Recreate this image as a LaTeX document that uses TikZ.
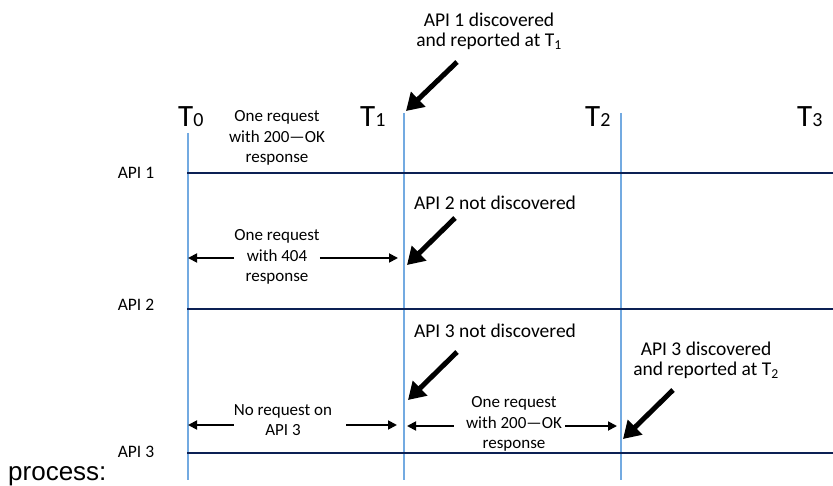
\documentclass[tikz,border=0pt]{standalone}
\usepackage{fontspec}
\setmainfont{Carlito}
\newfontfamily\procfont{Liberation Sans}
\usetikzlibrary{arrows.meta}
\definecolor{tickblue}{RGB}{115,170,225}
\definecolor{apinavy}{RGB}{12,32,84}

\begin{document}
\begin{tikzpicture}[x=1pt,y=-1pt,
  tickline/.style={draw=tickblue,line width=1.1pt},
  apiline/.style={draw=apinavy,line width=2.4pt},
  bigarrow/.style={line width=5pt,-{Triangle[length=17pt,width=20pt]}},
  smallarrow/.style={line width=1.8pt,-{Triangle[length=9pt,width=9pt]}},
  tlabel/.style={font=\fontsize{31}{31}\selectfont,anchor=base west,inner sep=0pt},
  apilabel/.style={font=\fontsize{17.5}{20}\selectfont,inner sep=0pt},
  rowtext/.style={font=\fontsize{17}{20.5}\selectfont,align=center,inner sep=0pt},
  note/.style={font=\fontsize{19.5}{20}\selectfont,align=center,inner sep=0pt}]

  \useasboundingbox (0,0) rectangle (833,486);

  % --- time marks ---
  \node[tlabel] (t0) at (178,127) {T{\fontsize{20}{20}\selectfont 0}};
  \node[tlabel] (t1) at (360,127) {T{\fontsize{20}{20}\selectfont 1}};
  \node[tlabel] (t2) at (585,127) {T{\fontsize{20}{20}\selectfont 2}};
  \node[tlabel] (t3) at (797,127) {T{\fontsize{20}{20}\selectfont 3}};

  \coordinate (t0top) at (188,133);
  \coordinate (t0bot) at (188,480);
  \coordinate (t1top) at (404,113);
  \coordinate (t1bot) at (404,480);
  \coordinate (t2top) at (621,113);
  \coordinate (t2bot) at (621,480);
  \draw[tickline] (t0top) -- (t0bot);
  \draw[tickline] (t1top) -- (t1bot);
  \draw[tickline] (t2top) -- (t2bot);

  % --- API lines ---
  \node[apilabel] (api1) at (136,173) {API 1};
  \node[apilabel] (api2) at (136,305) {API 2};
  \node[apilabel] (api3) at (136,452) {API 3};

  \coordinate (api1l) at (187,173);
  \coordinate (api1r) at (833,173);
  \coordinate (api2l) at (187,309);
  \coordinate (api2r) at (833,309);
  \coordinate (api3l) at (187,453);
  \coordinate (api3r) at (833,453);
  \draw[apiline] (api1l) -- (api1r);
  \draw[apiline] (api2l) -- (api2r);
  \draw[apiline] (api3l) -- (api3r);

  % --- API 1 ---
  \node[rowtext] (req1) at (277,138) {One request\\with 200\textemdash OK\\response};
  \node[note] (disc1) at (489,31) {API 1 discovered\\and reported at T\textsubscript{1}};
  \coordinate (tail1) at (457,62);
  \coordinate (tip1) at (406,111);
  \draw[bigarrow] (tail1) -- (tip1);

  % --- API 2 ---
  \node[rowtext] (req2) at (277,257) {One request\\with 404\\response};
  \coordinate (r2l) at (188,258);
  \coordinate (r2r) at (398,258);
  \draw[smallarrow] (req2.west |- r2l) -- (r2l);
  \draw[smallarrow] (req2.east |- r2r) -- (r2r);

  \node[note] (nd2) at (495,203) {API 2 not discovered};
  \coordinate (tail2) at (455,218);
  \coordinate (tip2) at (407,265);
  \draw[bigarrow] (tail2) -- (tip2);

  % --- API 3 ---
  \node[rowtext] (noreq3) at (283,420) {No request on\\API 3};
  \coordinate (r3l) at (188,425);
  \coordinate (r3m) at (397,425);
  \draw[smallarrow] (noreq3.west |- r3l) -- (r3l);
  \draw[smallarrow] ([xshift=14pt]noreq3.east |- r3m) -- (r3m);

  \node[rowtext] (req3) at (514,424) {One request\\with 200\textemdash OK\\response};
  \coordinate (r3a) at (407,426);
  \coordinate (r3b) at (617,426);
  \draw[smallarrow] ([xshift=-12pt]req3.west |- r3a) -- (r3a);
  \draw[smallarrow] ([xshift=3pt]req3.east |- r3b) -- (r3b);

  \node[note] (nd3) at (495,331) {API 3 not discovered};
  \coordinate (tail3) at (457,352);
  \coordinate (tip3) at (408,400);
  \draw[bigarrow] (tail3) -- (tip3);

  \node[note] (disc3) at (706,360) {API 3 discovered\\and reported at T\textsubscript{2}};
  \coordinate (tail4) at (673,390);
  \coordinate (tip4) at (623,439);
  \draw[bigarrow] (tail4) -- (tip4);

  % --- caption at the bottom ---
  \node[font=\procfont\fontsize{26}{26}\selectfont,anchor=base west,inner sep=0pt] (proc) at (8,480) {process:};

\end{tikzpicture}
\end{document}
